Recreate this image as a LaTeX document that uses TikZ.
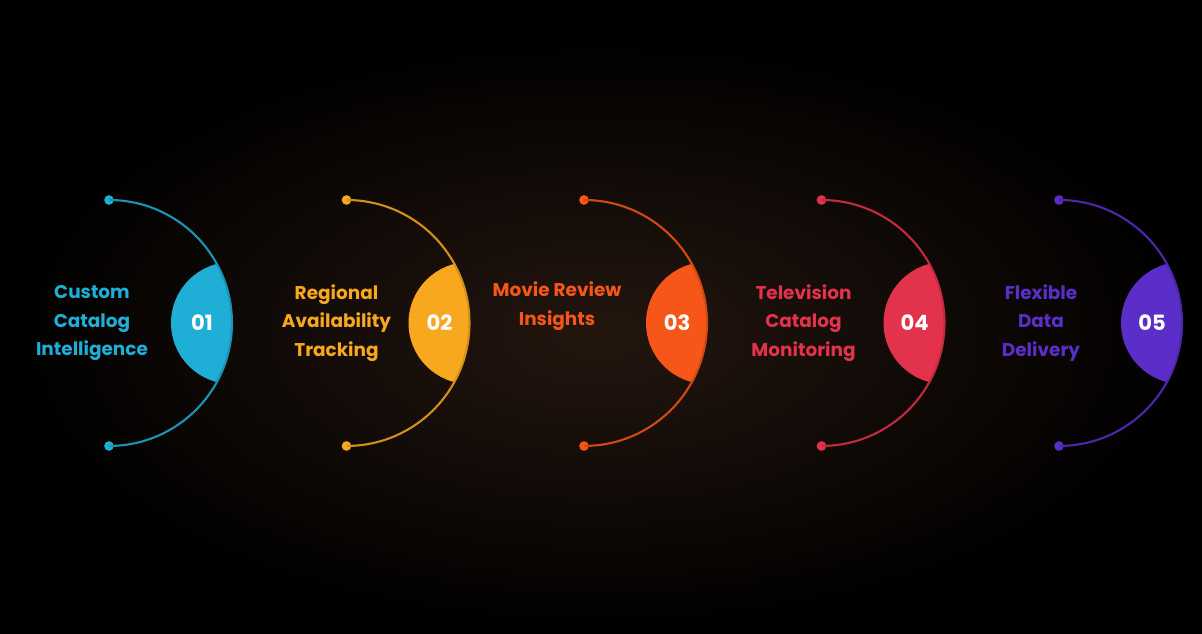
\documentclass[tikz,border=0pt]{standalone}
\usepackage{fontspec}
\setmainfont{Poppins}
\definecolor{ccyan}{HTML}{1FAED6}
\definecolor{corange}{HTML}{F7A81E}
\definecolor{cflame}{HTML}{F65718}
\definecolor{cred}{HTML}{E3324B}
\definecolor{cviolet}{HTML}{5B2EC9}
\definecolor{bgbrown}{HTML}{24160F}
\tikzset{
  arcline/.style={line width=1.2pt},
  dot/.style={circle,inner sep=0pt,minimum size=5.5pt},
  label/.style={align=center,font=\fontsize{10.5}{16.4}\selectfont\bfseries},
  num/.style={text=white,font=\fontsize{12}{14}\selectfont\bfseries}
}
\begin{document}
\begin{tikzpicture}[x=0.02cm,y=0.02cm]
  \useasboundingbox (0,0) rectangle (1202,634);
  \fill[black] (0,0) rectangle (1202,634);
  \shade[inner color=bgbrown,outer color=black] (600,300) ellipse (600 and 300);
  \foreach \i/\col/\dx/\ty/\txt in {
      0/ccyan/-17/311/{Custom\\Catalog\\Intelligence},
      1/corange/-10/311/{Regional\\Availability\\Tracking},
      2/cflame/-27/328/{Movie Review\\Insights},
      3/cred/-18/311/{Television\\Catalog\\Monitoring},
      4/cviolet/-18/311/{Flexible\\Data\\Delivery}} {
    \pgfmathsetmacro\cx{109+237.5*\i}
    \coordinate (c\i) at (\cx,311);
    \coordinate (r\i) at (\cx+123,311);
    \begin{scope}
      \clip (c\i) circle (123);
      \fill[\col] (r\i) circle (61);
    \end{scope}
    \node[dot,fill=\col] (t\i) at (\cx,434) {};
    \node[dot,fill=\col] (b\i) at (\cx,188) {};
    \draw[arcline,\col!85!black] (t\i.center) arc[start angle=90,end angle=-90,radius=2.46cm];
    \node[num] (n\i) at (\cx+93,311) {0\the\numexpr\i+1\relax};
    \node[label,text=\col] (l\i) at (\cx+\dx,\ty) {\txt};
  }
\end{tikzpicture}
\end{document}
